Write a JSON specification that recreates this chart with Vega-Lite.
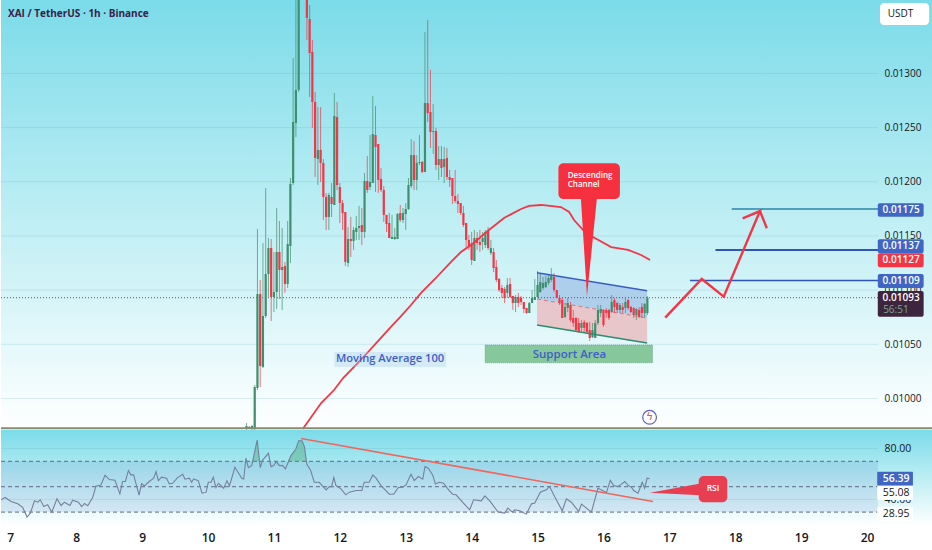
{"$schema":"https://vega.github.io/schema/vega-lite/v6.json","padding":0,"background":"white","spacing":0,"config":{"view":{"stroke":null},"concat":{"spacing":0},"text":{"font":"Open Sans"}},
"datasets":{
"days":[{"h":0},{"h":24},{"h":48},{"h":72},{"h":96},{"h":120},{"h":144},{"h":168},{"h":192},{"h":216},{"h":240},{"h":264},{"h":288},{"h":312}],
"candles":[
{"h":86,"p":0.009773,"p2":0.009709,"o":0.009727,"c":0.009746},
{"h":87,"p":0.009746,"p2":0.009718,"o":0.009737,"c":0.009727},
{"h":88,"p":0.009755,"p2":0.009709,"o":0.009727,"c":0.009746},
{"h":89,"p":0.010125,"p2":0.009691,"o":0.009718,"c":0.010106},
{"h":90,"p":0.011564,"p2":0.010078,"o":0.010097,"c":0.010964},
{"h":91,"p":0.011094,"p2":0.010106,"o":0.010964,"c":0.010300},
{"h":92,"p":0.011435,"p2":0.010282,"o":0.010291,"c":0.010761},
{"h":93,"p":0.011943,"p2":0.010743,"o":0.010761,"c":0.011149},
{"h":94,"p":0.011481,"p2":0.010937,"o":0.011149,"c":0.011389},
{"h":95,"p":0.011472,"p2":0.010715,"o":0.011389,"c":0.010937},
{"h":96,"p":0.011352,"p2":0.010798,"o":0.010937,"c":0.010983},
{"h":97,"p":0.011758,"p2":0.010826,"o":0.010983,"c":0.011352},
{"h":98,"p":0.011638,"p2":0.010918,"o":0.011352,"c":0.011186},
{"h":99,"p":0.011574,"p2":0.010817,"o":0.011186,"c":0.011214},
{"h":100,"p":0.011260,"p2":0.010974,"o":0.011223,"c":0.011057},
{"h":101,"p":0.011638,"p2":0.011020,"o":0.011057,"c":0.011426},
{"h":102,"p":0.012035,"p2":0.011250,"o":0.011407,"c":0.011980},
{"h":103,"p":0.013143,"p2":0.011970,"o":0.011989,"c":0.012552},
{"h":104,"p":0.013770,"p2":0.012413,"o":0.012543,"c":0.012847},
{"h":105,"p":0.013862,"p2":0.012829,"o":0.012847,"c":0.013862},
{"h":106,"p":0.014140,"p2":0.013862,"o":0.013881,"c":0.014093},
{"h":107,"p":0.014140,"p2":0.013789,"o":0.014093,"c":0.013862},
{"h":108,"p":0.013862,"p2":0.013309,"o":0.013789,"c":0.013512},
{"h":109,"p":0.013632,"p2":0.012783,"o":0.013503,"c":0.013189},
{"h":110,"p":0.013309,"p2":0.012497,"o":0.013198,"c":0.012737},
{"h":111,"p":0.012829,"p2":0.012044,"o":0.012737,"c":0.012220},
{"h":112,"p":0.012690,"p2":0.011970,"o":0.012210,"c":0.012294},
{"h":113,"p":0.012690,"p2":0.011998,"o":0.012294,"c":0.012174},
{"h":114,"p":0.012210,"p2":0.011647,"o":0.012174,"c":0.011860},
{"h":115,"p":0.011897,"p2":0.011555,"o":0.011860,"c":0.011675},
{"h":116,"p":0.011897,"p2":0.011555,"o":0.011675,"c":0.011878},
{"h":117,"p":0.011989,"p2":0.011675,"o":0.011860,"c":0.011795},
{"h":118,"p":0.012820,"p2":0.011786,"o":0.011786,"c":0.012607},
{"h":119,"p":0.012737,"p2":0.011924,"o":0.012598,"c":0.011970},
{"h":120,"p":0.011989,"p2":0.011620,"o":0.011952,"c":0.011804},
{"h":121,"p":0.011832,"p2":0.011555,"o":0.011804,"c":0.011712},
{"h":122,"p":0.011721,"p2":0.011223,"o":0.011721,"c":0.011260},
{"h":123,"p":0.011583,"p2":0.011214,"o":0.011250,"c":0.011472},
{"h":124,"p":0.011675,"p2":0.011306,"o":0.011472,"c":0.011454},
{"h":125,"p":0.011583,"p2":0.011371,"o":0.011454,"c":0.011555},
{"h":126,"p":0.011684,"p2":0.011463,"o":0.011537,"c":0.011574},
{"h":127,"p":0.011777,"p2":0.011463,"o":0.011574,"c":0.011592},
{"h":128,"p":0.011758,"p2":0.011417,"o":0.011601,"c":0.011537},
{"h":129,"p":0.012081,"p2":0.011481,"o":0.011537,"c":0.012007},
{"h":130,"p":0.012238,"p2":0.011897,"o":0.012007,"c":0.011924},
{"h":131,"p":0.012432,"p2":0.011924,"o":0.011952,"c":0.011998},
{"h":132,"p":0.012792,"p2":0.011989,"o":0.011989,"c":0.012441},
{"h":133,"p":0.012700,"p2":0.011906,"o":0.012432,"c":0.012321},
{"h":134,"p":0.012349,"p2":0.011897,"o":0.012349,"c":0.012017},
{"h":135,"p":0.012127,"p2":0.011906,"o":0.012026,"c":0.011924},
{"h":136,"p":0.011961,"p2":0.011629,"o":0.011924,"c":0.011694},
{"h":137,"p":0.011694,"p2":0.011537,"o":0.011694,"c":0.011610},
{"h":138,"p":0.011712,"p2":0.011481,"o":0.011620,"c":0.011481},
{"h":139,"p":0.011694,"p2":0.011472,"o":0.011472,"c":0.011490},
{"h":140,"p":0.011574,"p2":0.011463,"o":0.011472,"c":0.011490},
{"h":141,"p":0.011712,"p2":0.011472,"o":0.011472,"c":0.011703},
{"h":142,"p":0.011786,"p2":0.011629,"o":0.011712,"c":0.011647},
{"h":143,"p":0.011758,"p2":0.011620,"o":0.011647,"c":0.011712},
{"h":144,"p":0.011804,"p2":0.011555,"o":0.011703,"c":0.011749},
{"h":145,"p":0.012035,"p2":0.011740,"o":0.011749,"c":0.011970},
{"h":146,"p":0.012395,"p2":0.011943,"o":0.011961,"c":0.012247},
{"h":147,"p":0.012377,"p2":0.011924,"o":0.012247,"c":0.012017},
{"h":148,"p":0.012247,"p2":0.011924,"o":0.012017,"c":0.012174},
{"h":149,"p":0.012432,"p2":0.012155,"o":0.012174,"c":0.012183},
{"h":150,"p":0.012192,"p2":0.012081,"o":0.012183,"c":0.012090},
{"h":151,"p":0.013383,"p2":0.012090,"o":0.012090,"c":0.012727},
{"h":152,"p":0.013493,"p2":0.012552,"o":0.012727,"c":0.012635},
{"h":153,"p":0.013032,"p2":0.012312,"o":0.012644,"c":0.012460},
{"h":154,"p":0.012718,"p2":0.012257,"o":0.012460,"c":0.012469},
{"h":155,"p":0.012497,"p2":0.012109,"o":0.012469,"c":0.012155},
{"h":156,"p":0.012330,"p2":0.012017,"o":0.012155,"c":0.012210},
{"h":157,"p":0.012330,"p2":0.012044,"o":0.012210,"c":0.012127},
{"h":158,"p":0.012321,"p2":0.011989,"o":0.012137,"c":0.012210},
{"h":159,"p":0.012312,"p2":0.012017,"o":0.012220,"c":0.012044},
{"h":160,"p":0.012109,"p2":0.011952,"o":0.012044,"c":0.012017},
{"h":161,"p":0.012035,"p2":0.011795,"o":0.012035,"c":0.011869},
{"h":162,"p":0.012109,"p2":0.011804,"o":0.011869,"c":0.011823},
{"h":163,"p":0.011887,"p2":0.011712,"o":0.011823,"c":0.011795},
{"h":164,"p":0.011804,"p2":0.011694,"o":0.011804,"c":0.011712},
{"h":165,"p":0.011777,"p2":0.011583,"o":0.011712,"c":0.011601},
{"h":166,"p":0.011620,"p2":0.011389,"o":0.011620,"c":0.011463},
{"h":167,"p":0.011509,"p2":0.011371,"o":0.011463,"c":0.011398},
{"h":168,"p":0.011537,"p2":0.011232,"o":0.011435,"c":0.011278},
{"h":169,"p":0.011555,"p2":0.011269,"o":0.011269,"c":0.011481},
{"h":170,"p":0.011537,"p2":0.011371,"o":0.011481,"c":0.011435},
{"h":171,"p":0.011555,"p2":0.011352,"o":0.011444,"c":0.011417},
{"h":172,"p":0.011537,"p2":0.011371,"o":0.011444,"c":0.011481},
{"h":173,"p":0.011555,"p2":0.011389,"o":0.011417,"c":0.011537},
{"h":174,"p":0.011583,"p2":0.011371,"o":0.011555,"c":0.011389},
{"h":175,"p":0.011463,"p2":0.011324,"o":0.011343,"c":0.011389},
{"h":176,"p":0.011389,"p2":0.011167,"o":0.011352,"c":0.011204},
{"h":177,"p":0.011278,"p2":0.011075,"o":0.011214,"c":0.011094},
{"h":178,"p":0.011112,"p2":0.010983,"o":0.011103,"c":0.011001},
{"h":179,"p":0.011048,"p2":0.010928,"o":0.011020,"c":0.010974},
{"h":180,"p":0.011029,"p2":0.010881,"o":0.011011,"c":0.010928},
{"h":181,"p":0.011112,"p2":0.010928,"o":0.010974,"c":0.011048},
{"h":182,"p":0.011112,"p2":0.010928,"o":0.011057,"c":0.010937},
{"h":183,"p":0.010946,"p2":0.010817,"o":0.010946,"c":0.010881},
{"h":184,"p":0.010955,"p2":0.010798,"o":0.010881,"c":0.010937},
{"h":185,"p":0.010974,"p2":0.010844,"o":0.010937,"c":0.010881},
{"h":186,"p":0.010946,"p2":0.010863,"o":0.010928,"c":0.010891},
{"h":187,"p":0.010891,"p2":0.010789,"o":0.010891,"c":0.010826},
{"h":188,"p":0.010835,"p2":0.010780,"o":0.010835,"c":0.010789},
{"h":189,"p":0.010891,"p2":0.010789,"o":0.010789,"c":0.010881},
{"h":190,"p":0.011001,"p2":0.010881,"o":0.010881,"c":0.010928},
{"h":191,"p":0.011103,"p2":0.010909,"o":0.010909,"c":0.010937},
{"h":192,"p":0.011177,"p2":0.010928,"o":0.010937,"c":0.011048},
{"h":193,"p":0.011158,"p2":0.010974,"o":0.010983,"c":0.011075},
{"h":194,"p":0.011121,"p2":0.011001,"o":0.011020,"c":0.011066},
{"h":195,"p":0.011131,"p2":0.011020,"o":0.011029,"c":0.011075},
{"h":196,"p":0.011140,"p2":0.011048,"o":0.011066,"c":0.011112},
{"h":197,"p":0.011204,"p2":0.011075,"o":0.011094,"c":0.011131},
{"h":198,"p":0.011158,"p2":0.010983,"o":0.011121,"c":0.011001},
{"h":199,"p":0.011001,"p2":0.010928,"o":0.011001,"c":0.010928},
{"h":200,"p":0.010955,"p2":0.010863,"o":0.010928,"c":0.010881},
{"h":201,"p":0.010928,"p2":0.010743,"o":0.010909,"c":0.010743},
{"h":202,"p":0.010881,"p2":0.010743,"o":0.010752,"c":0.010844},
{"h":203,"p":0.010928,"p2":0.010798,"o":0.010835,"c":0.010881},
{"h":204,"p":0.010891,"p2":0.010706,"o":0.010863,"c":0.010724},
{"h":205,"p":0.010817,"p2":0.010660,"o":0.010743,"c":0.010697},
{"h":206,"p":0.010752,"p2":0.010614,"o":0.010743,"c":0.010632},
{"h":207,"p":0.010743,"p2":0.010604,"o":0.010697,"c":0.010614},
{"h":208,"p":0.010724,"p2":0.010614,"o":0.010651,"c":0.010697},
{"h":209,"p":0.010724,"p2":0.010614,"o":0.010706,"c":0.010651},
{"h":210,"p":0.010706,"p2":0.010595,"o":0.010697,"c":0.010614},
{"h":211,"p":0.010706,"p2":0.010531,"o":0.010632,"c":0.010558},
{"h":212,"p":0.010697,"p2":0.010558,"o":0.010567,"c":0.010632},
{"h":213,"p":0.010724,"p2":0.010558,"o":0.010558,"c":0.010697},
{"h":214,"p":0.010863,"p2":0.010678,"o":0.010697,"c":0.010817},
{"h":215,"p":0.010863,"p2":0.010752,"o":0.010789,"c":0.010826},
{"h":216,"p":0.010826,"p2":0.010660,"o":0.010817,"c":0.010678},
{"h":217,"p":0.010835,"p2":0.010743,"o":0.010817,"c":0.010789},
{"h":218,"p":0.010826,"p2":0.010724,"o":0.010817,"c":0.010743},
{"h":219,"p":0.010955,"p2":0.010789,"o":0.010798,"c":0.010891},
{"h":220,"p":0.010928,"p2":0.010789,"o":0.010909,"c":0.010844},
{"h":221,"p":0.010891,"p2":0.010789,"o":0.010881,"c":0.010817},
{"h":222,"p":0.010881,"p2":0.010789,"o":0.010817,"c":0.010863},
{"h":223,"p":0.010881,"p2":0.010789,"o":0.010844,"c":0.010817},
{"h":224,"p":0.010928,"p2":0.010789,"o":0.010835,"c":0.010891},
{"h":225,"p":0.010918,"p2":0.010817,"o":0.010909,"c":0.010835},
{"h":226,"p":0.010854,"p2":0.010789,"o":0.010844,"c":0.010798},
{"h":227,"p":0.010844,"p2":0.010743,"o":0.010835,"c":0.010771},
{"h":228,"p":0.010835,"p2":0.010724,"o":0.010771,"c":0.010826},
{"h":229,"p":0.010844,"p2":0.010743,"o":0.010817,"c":0.010752},
{"h":230,"p":0.010881,"p2":0.010743,"o":0.010844,"c":0.010789},
{"h":231,"p":0.010881,"p2":0.010743,"o":0.010789,"c":0.010872},
{"h":232,"p":0.010946,"p2":0.010771,"o":0.010789,"c":0.010928}],
"ma":[{"h":106.5,"p":0.009718},{"h":113.2,"p":0.009958},{"h":117.9,"p":0.010078},{"h":121.2,"p":0.010189},{"h":126.6,"p":0.010328},{"h":130.3,"p":0.010429},{"h":134.3,"p":0.01054},{"h":138.6,"p":0.01066},{"h":142.3,"p":0.010761},{"h":145.9,"p":0.010863},{"h":149.6,"p":0.010974},{"h":155,"p":0.011112},{"h":160.5,"p":0.01126},{"h":164.1,"p":0.011352},{"h":167.8,"p":0.011417},{"h":174.3,"p":0.011555},{"h":179.8,"p":0.011666},{"h":186,"p":0.011749},{"h":188.9,"p":0.011777},{"h":193.3,"p":0.011786},{"h":200.5,"p":0.011767},{"h":203.5,"p":0.011721},{"h":205.3,"p":0.011647},{"h":208.6,"p":0.011555},{"h":212.2,"p":0.01149},{"h":218.8,"p":0.011398},{"h":225,"p":0.011371},{"h":229.7,"p":0.011324},{"h":233,"p":0.011278}],
"rsi":[{"h":-3.4,"v":39.7},{"h":-1.9,"v":41.5},{"h":0.3,"v":38.4},{"h":2.7,"v":36.5},{"h":4.5,"v":33.7},{"h":6.1,"v":26.1},{"h":7.3,"v":29.2},{"h":8.8,"v":38.9},{"h":10,"v":37.8},{"h":10.9,"v":39.7},{"h":12.2,"v":34.4},{"h":13.6,"v":35.8},{"h":15.1,"v":30},{"h":17,"v":40.5},{"h":18.5,"v":35.2},{"h":19.7,"v":37.8},{"h":21.7,"v":35.2},{"h":22.7,"v":39.4},{"h":24.8,"v":37.8},{"h":26,"v":34.4},{"h":27,"v":36.8},{"h":28.2,"v":35},{"h":30,"v":41.5},{"h":31.2,"v":50.4},{"h":33,"v":51.4},{"h":34.5,"v":59},{"h":36.1,"v":55.6},{"h":38.1,"v":55.1},{"h":39.9,"v":44.4},{"h":40.9,"v":54.1},{"h":41.9,"v":54.1},{"h":43,"v":62.7},{"h":43.9,"v":59.3},{"h":44.9,"v":59.3},{"h":46.9,"v":43.3},{"h":47.8,"v":52.5},{"h":48.8,"v":50.6},{"h":50.6,"v":54.1},{"h":52.2,"v":56.7},{"h":53.1,"v":61.9},{"h":53.9,"v":54.8},{"h":55.1,"v":57.5},{"h":56.9,"v":56.7},{"h":57.9,"v":52.2},{"h":59.1,"v":52.7},{"h":60.9,"v":57.2},{"h":62.8,"v":59.8},{"h":63.6,"v":55.9},{"h":65.2,"v":56.7},{"h":66,"v":53.5},{"h":66.8,"v":56.1},{"h":68.5,"v":54.6},{"h":69.8,"v":44.9},{"h":71.3,"v":45.7},{"h":72.1,"v":53.5},{"h":73.1,"v":53.5},{"h":73.9,"v":57.5},{"h":74.9,"v":49.4},{"h":75.8,"v":52.7},{"h":77.7,"v":48.8},{"h":78.9,"v":54.6},{"h":79.8,"v":50.6},{"h":81.8,"v":65.3},{"h":84.3,"v":56.7},{"h":85,"v":56.1},{"h":85.8,"v":72.4},{"h":86.7,"v":65},{"h":87.9,"v":66.6},{"h":89.9,"v":86.7},{"h":91,"v":65},{"h":91.9,"v":71},{"h":94,"v":76.3},{"h":94.9,"v":65.8},{"h":95.9,"v":66.6},{"h":96.9,"v":69.7},{"h":98,"v":66.6},{"h":99.2,"v":66.6},{"h":100.2,"v":64},{"h":102.2,"v":74.5},{"h":104,"v":79.7},{"h":105,"v":86.2},{"h":106.2,"v":86.2},{"h":107.1,"v":81.5},{"h":108,"v":67.6},{"h":109.3,"v":63.2},{"h":110.7,"v":53.5},{"h":112.5,"v":53.5},{"h":115,"v":47.5},{"h":116.2,"v":50.1},{"h":117,"v":50.1},{"h":117.8,"v":57.2},{"h":118.6,"v":50.9},{"h":120.4,"v":48.3},{"h":122.2,"v":43.6},{"h":123.5,"v":45.7},{"h":125.9,"v":47},{"h":128,"v":47},{"h":128.9,"v":53.5},{"h":130.7,"v":53.5},{"h":132,"v":59.3},{"h":133.2,"v":56.7},{"h":135,"v":50.9},{"h":138,"v":44.1},{"h":139.6,"v":44.1},{"h":141.3,"v":49.4},{"h":142.9,"v":49.6},{"h":144.1,"v":51.4},{"h":145.9,"v":59.8},{"h":147.1,"v":54.8},{"h":148.6,"v":58},{"h":150.2,"v":55.9},{"h":151,"v":65.8},{"h":152.2,"v":64.5},{"h":153.8,"v":59.3},{"h":154.8,"v":52.2},{"h":156.2,"v":53.5},{"h":157.8,"v":52.7},{"h":159.9,"v":46.7},{"h":161.1,"v":44.1},{"h":162.3,"v":43.6},{"h":164.7,"v":37.8},{"h":167.3,"v":31.8},{"h":168.7,"v":39.7},{"h":171.5,"v":38.9},{"h":172.8,"v":42.8},{"h":174.6,"v":38.9},{"h":177.6,"v":30},{"h":180,"v":29.2},{"h":181.2,"v":33.1},{"h":182.8,"v":30},{"h":183.7,"v":31.8},{"h":185.5,"v":31},{"h":187.9,"v":28.4},{"h":189.8,"v":36.5},{"h":191,"v":37.1},{"h":193,"v":45.7},{"h":195.2,"v":47.5},{"h":196.4,"v":50.1},{"h":198.2,"v":42.3},{"h":201,"v":31},{"h":202.5,"v":40.5},{"h":204.3,"v":37.8},{"h":207,"v":30.5},{"h":208,"v":36.3},{"h":211.6,"v":30},{"h":214,"v":48.8},{"h":217.1,"v":45.4},{"h":218.5,"v":55.1},{"h":219.7,"v":50.9},{"h":221.3,"v":50.1},{"h":222.2,"v":51.4},{"h":223.8,"v":54.1},{"h":225,"v":50.9},{"h":226.2,"v":49.6},{"h":227,"v":47},{"h":228.6,"v":44.9},{"h":230.1,"v":53.5},{"h":231,"v":48.8},{"h":231.9,"v":56.7},{"h":232.8,"v":56.39}]
},
"vconcat":[
{"width":932,"height":430,
"view":{"stroke":null,"fill":{"gradient":"linear","x1":0,"y1":0,"x2":0,"y2":1,"stops":[{"offset":0,"color":"#7bdbe9"},{"offset":0.5,"color":"#bdeef4"},{"offset":1,"color":"#ffffff"}]}},
"encoding":{"x":{"field":"h","type":"quantitative","scale":{"domain":[-3.39,336.01],"nice":false,"zero":false},"axis":null},
"y":{"field":"p","type":"quantitative","scale":{"domain":[0.009709,0.013678],"nice":false,"zero":false},"axis":{"orient":"right","offset":-49,"values":[0.0100,0.0105,0.0110,0.0115,0.0120,0.0125,0.0130],"format":".5f","title":null,"grid":false,"ticks":false,"domain":false,"labelPadding":0,"labelAlign":"left","labelFont":"Open Sans","labelFontSize":10,"labelColor":"#131722"}}},
"layer":[
{"data":{"name":"days"},"mark":{"type":"rule","stroke":"#5aa7b8","opacity":0.2,"strokeWidth":1},"encoding":{"y":{"datum":0.013678},"y2":{"datum":0.009709}}},
{"data":{"values":[{"h":-3.39,"h2":316,"p":0.0100},{"h":-3.39,"h2":316,"p":0.0105},{"h":-3.39,"h2":316,"p":0.0110},{"h":-3.39,"h2":316,"p":0.0115},{"h":-3.39,"h2":316,"p":0.0120},{"h":-3.39,"h2":316,"p":0.0125},{"h":-3.39,"h2":316,"p":0.0130}]},"mark":{"type":"rule","stroke":"#5aa7b8","opacity":0.2,"strokeWidth":1},"encoding":{"x2":{"field":"h2"}}},
{"data":{"values":[{"h":316}]},"mark":{"type":"rule","stroke":"#ffffff","opacity":0.5,"strokeWidth":2},"encoding":{"y":{"datum":0.013678},"y2":{"datum":0.009709}}},
{"data":{"values":[{"h":191.8,"top":0.011161,"bot":0.010918},{"h":231.9,"top":0.010995,"bot":0.010743}]},"mark":{"type":"area","color":"#a9cbe9","opacity":0.9},"encoding":{"y":{"field":"top","type":"quantitative"},"y2":{"field":"bot"}}},
{"data":{"values":[{"h":191.8,"top":0.010918,"bot":0.010678},{"h":231.9,"top":0.010743,"bot":0.010512}]},"mark":{"type":"area","color":"#e8c4c8","opacity":0.95},"encoding":{"y":{"field":"top","type":"quantitative"},"y2":{"field":"bot"}}},
{"data":{"values":[{"h":191.8,"p":0.010918},{"h":231.9,"p":0.010743}]},"mark":{"type":"line","color":"#e57373","strokeWidth":1,"strokeDash":[4,3]}},
{"data":{"values":[{"h":-3.39,"h2":316,"p":0.01093}]},"mark":{"type":"rule","stroke":"#3f3f55","strokeWidth":1,"strokeDash":[1,2],"opacity":0.85},"encoding":{"x2":{"field":"h2"}}},
{"data":{"name":"candles"},"mark":{"type":"rule","strokeWidth":1,"opacity":0.7,"clip":true},"encoding":{"y2":{"field":"p2"},"color":{"condition":{"test":"datum.c>=datum.o","value":"#3f8f6e"},"value":"#f23645"}}},
{"data":{"name":"candles"},"mark":{"type":"rule","strokeWidth":2.2,"clip":true},"encoding":{"y":{"field":"o","type":"quantitative"},"y2":{"field":"c"},"color":{"condition":{"test":"datum.c>=datum.o","value":"#3f8f6e"},"value":"#f23645"}}},
{"data":{"values":[{"h":191.8,"p":0.011161},{"h":231.9,"p":0.010995}]},"mark":{"type":"line","color":"#3b5fc0","strokeWidth":1.6}},
{"data":{"values":[{"h":191.8,"p":0.010678},{"h":231.9,"p":0.010512}]},"mark":{"type":"line","color":"#2e8b6f","strokeWidth":1.6}},
{"data":{"name":"ma"},"mark":{"type":"line","color":"#f23645","strokeWidth":1.8,"clip":true}},
{"data":{"values":[{"h":172.9,"h2":233.9,"p":0.010494,"p2":0.01033}]},"mark":{"type":"rect","fill":"#86c79c","stroke":"#5f9f80","strokeWidth":0.7,"strokeDash":[1,1]},"encoding":{"x2":{"field":"h2"},"y2":{"field":"p2"}}},
{"data":{"values":[{"h":203.6,"p":0.010405,"t":"Support Area"}]},"mark":{"type":"text","color":"#3f5fc4","fontSize":11.5,"fontWeight":600,"align":"center","baseline":"middle"},"encoding":{"text":{"field":"t"}}},
{"data":{"values":[{"h":118,"h2":158.7,"p":0.010429,"p2":0.010291}]},"mark":{"type":"rect","fill":"#a9cbe9","opacity":0.35},"encoding":{"x2":{"field":"h2"},"y2":{"field":"p2"}}},
{"data":{"values":[{"h":138.3,"p":0.01036,"t":"Moving Average 100"}]},"mark":{"type":"text","color":"#3f5fc4","fontSize":11.2,"fontWeight":600,"align":"center","baseline":"middle"},"encoding":{"text":{"field":"t"}}},
{"data":{"values":[{"h":207.8,"top":0.011841,"bot":0.011841},{"h":210,"top":0.011841,"bot":0.010946},{"h":213.6,"top":0.011841,"bot":0.011841}]},"mark":{"type":"area","color":"#f7303f"},"encoding":{"y":{"field":"top","type":"quantitative"},"y2":{"field":"bot"}}},
{"data":{"values":[{"h":199.6,"h2":222,"p":0.012171,"p2":0.011841}]},"mark":{"type":"rect","fill":"#f7303f","cornerRadius":5},"encoding":{"x2":{"field":"h2"},"y2":{"field":"p2"}}},
{"data":{"values":[{"h":203,"p":0.012058,"t":"Descending"},{"h":203,"p":0.01197,"t":"Channel"}]},"mark":{"type":"text","color":"#ffffff","fontSize":8,"fontWeight":600,"align":"left","baseline":"middle"},"encoding":{"text":{"field":"t"}}},
{"data":{"values":[{"h":262.7,"h2":316,"p":0.01175}]},"mark":{"type":"rule","stroke":"#2c84a8","strokeWidth":1.5},"encoding":{"x2":{"field":"h2"}}},
{"data":{"values":[{"h":256.8,"h2":316,"p":0.01137}]},"mark":{"type":"rule","stroke":"#2f55b8","strokeWidth":2},"encoding":{"x2":{"field":"h2"}}},
{"data":{"values":[{"h":247.5,"h2":316,"p":0.01109}]},"mark":{"type":"rule","stroke":"#2f55b8","strokeWidth":1.5},"encoding":{"x2":{"field":"h2"}}},
{"data":{"values":[{"n":1,"h":238.5,"p":0.010746},{"n":2,"h":251.8,"p":0.011103},{"n":3,"h":259.8,"p":0.01094},{"n":4,"h":273,"p":0.01173},{"n":5,"h":266.7,"p":0.011663},{"n":6,"h":273,"p":0.01173},{"n":7,"h":275.5,"p":0.011571}]},"mark":{"type":"line","color":"#f23645","strokeWidth":2.4},"encoding":{"order":{"field":"n"}}},
{"data":{"values":[{"h":-3.39,"p":0.009725}]},"mark":{"type":"rule","stroke":"#8a8a70","strokeWidth":2},"encoding":{"x2":{"datum":336.01}}},
{"data":{"values":[{"h":232.8,"p":0.009826}]},"mark":{"type":"point","shape":"circle","size":190,"stroke":"#5a62c4","strokeWidth":1.2,"fill":"#ffffff","opacity":1}},
{"data":{"values":[{"h":232.8,"p":0.009826,"t":"ϟ"}]},"mark":{"type":"text","font":"DejaVu Sans","color":"#d0556a","fontSize":11,"align":"center","baseline":"middle"},"encoding":{"text":{"field":"t"}}},
{"data":{"values":[{"h":-0.84,"p":0.013549,"t":"XAI / TetherUS · 1h · Binance"}]},"mark":{"type":"text","color":"#3a2148","fontSize":10,"fontWeight":700,"align":"left","baseline":"middle"},"encoding":{"text":{"field":"t"}}},
{"data":{"values":[{"h":316.7,"h2":334.6,"p":0.01365,"p2":0.013447}]},"mark":{"type":"rect","fill":"#ffffff","cornerRadius":4},"encoding":{"x2":{"field":"h2"},"y2":{"field":"p2"}}},
{"data":{"values":[{"h":319.5,"p":0.013549,"t":"USDT"}]},"mark":{"type":"text","color":"#131722","fontSize":10,"align":"left","baseline":"middle"},"encoding":{"text":{"field":"t"}}},
{"data":{"values":[{"h":315.9,"h2":332.6,"p":0.011802,"p2":0.011678,"k":"target"},{"h":315.9,"h2":332.6,"p":0.011469,"p2":0.01134,"k":"target"},{"h":315.9,"h2":332.6,"p":0.01134,"p2":0.011211,"k":"ma"},{"h":315.9,"h2":332.6,"p":0.011149,"p2":0.01102,"k":"target"},{"h":315.9,"h2":332.6,"p":0.010992,"p2":0.010755,"k":"last"}]},"mark":{"type":"rect","cornerRadius":2},"encoding":{"x2":{"field":"h2"},"y2":{"field":"p2"},"color":{"field":"k","type":"nominal","legend":null,"scale":{"domain":["target","ma","last"],"range":["#3f66c4","#f23645","#3f2440"]}}}},
{"data":{"values":[{"h":324.4,"p":0.01174,"t":"0.01175"},{"h":324.4,"p":0.011405,"t":"0.01137"},{"h":324.4,"p":0.011275,"t":"0.01127"},{"h":324.4,"p":0.011084,"t":"0.01109"},{"h":324.4,"p":0.01093,"t":"0.01093"}]},"mark":{"type":"text","color":"#ffffff","fontSize":10,"fontWeight":600,"align":"center","baseline":"middle"},"encoding":{"text":{"field":"t"}}},
{"data":{"values":[{"h":322.5,"p":0.010817,"t":"56:51"}]},"mark":{"type":"text","color":"#7ba98e","fontSize":10,"align":"center","baseline":"middle"},"encoding":{"text":{"field":"t"}}}
]},
{"width":932,"height":96,
"view":{"stroke":null,"fill":{"gradient":"linear","x1":0,"y1":0,"x2":0,"y2":1,"stops":[{"offset":0,"color":"#7bdbe9"},{"offset":0.5,"color":"#bdeef4"},{"offset":1,"color":"#ffffff"}]}},
"encoding":{"x":{"field":"h","type":"quantitative","scale":{"domain":[-3.39,336.01],"nice":false,"zero":false},"axis":{"orient":"bottom","values":[0,24,48,72,96,120,144,168,192,216,240,264,288,312],"labelExpr":"datum.value/24+7","title":null,"grid":false,"ticks":false,"domain":false,"labelPadding":6,"labelFont":"Open Sans","labelFontSize":12,"labelFontWeight":600,"labelColor":"#131722"}},
"y":{"field":"v","type":"quantitative","scale":{"domain":[19.06,94.65],"nice":false,"zero":false},"axis":{"orient":"right","offset":-49,"values":[80,40],"format":".2f","title":null,"grid":false,"ticks":false,"domain":false,"labelPadding":0,"labelAlign":"left","labelFont":"Open Sans","labelFontSize":10.5,"labelColor":"#131722"}}},
"layer":[
{"data":{"values":[{"h":-3.39,"h2":316,"v":70,"v2":30}]},"mark":{"type":"rect","fill":"#4a6fc0","opacity":0.14},"encoding":{"x2":{"field":"h2"},"y2":{"field":"v2"}}},
{"data":{"name":"days"},"mark":{"type":"rule","stroke":"#5aa7b8","opacity":0.2,"strokeWidth":1},"encoding":{"y":{"datum":94.65},"y2":{"datum":19.06}}},
{"data":{"values":[{"h":-3.39,"h2":316,"v":80},{"h":-3.39,"h2":316,"v":40}]},"mark":{"type":"rule","stroke":"#5aa7b8","opacity":0.2,"strokeWidth":1},"encoding":{"x2":{"field":"h2"}}},
{"data":{"values":[{"h":-3.39,"h2":316,"v":70},{"h":-3.39,"h2":316,"v":50},{"h":-3.39,"h2":316,"v":30}]},"mark":{"type":"rule","stroke":"#5f6b80","strokeWidth":1,"strokeDash":[4,3]},"encoding":{"x2":{"field":"h2"}}},
{"data":{"values":[{"h":85.4,"top":70,"bot":70},{"h":85.8,"top":72.4,"bot":70},{"h":86.4,"top":70,"bot":70},{"h":88.2,"top":70,"bot":70},{"h":89.9,"top":86.7,"bot":70},{"h":90.7,"top":70,"bot":70},{"h":101,"top":70,"bot":70},{"h":102.2,"top":74.5,"bot":70},{"h":104,"top":79.7,"bot":70},{"h":105,"top":86.2,"bot":70},{"h":106.2,"top":86.2,"bot":70},{"h":107.1,"top":81.5,"bot":70},{"h":107.8,"top":70,"bot":70}]},"mark":{"type":"area","color":"#4fa97a","opacity":0.45},"encoding":{"y":{"field":"top","type":"quantitative"},"y2":{"field":"bot"}}},
{"data":{"name":"rsi"},"mark":{"type":"line","color":"#76809c","strokeWidth":1.1,"clip":true}},
{"data":{"values":[{"h":105.9,"v":88},{"h":234,"v":38.4}]},"mark":{"type":"line","color":"#f0655c","strokeWidth":1.6}},
{"data":{"values":[{"h":232.9,"top":45.2,"bot":45.2},{"h":253.3,"top":53.3,"bot":43.1}]},"mark":{"type":"area","color":"#e83e52"},"encoding":{"y":{"field":"top","type":"quantitative"},"y2":{"field":"bot"}}},
{"data":{"values":[{"h":250.7,"h2":261.1,"v":58.5,"v2":37.8}]},"mark":{"type":"rect","fill":"#e83e52","cornerRadius":5},"encoding":{"x2":{"field":"h2"},"y2":{"field":"v2"}}},
{"data":{"values":[{"h":255.9,"v":48.6,"t":"RSI"}]},"mark":{"type":"text","color":"#ffffff","fontSize":8.5,"fontWeight":600,"align":"center","baseline":"middle"},"encoding":{"text":{"field":"t"}}},
{"data":{"values":[{"h":315.7,"h2":328.7,"v":61.8,"v2":50.8}]},"mark":{"type":"rect","fill":"#3f66c4","cornerRadius":1},"encoding":{"x2":{"field":"h2"},"y2":{"field":"v2"}}},
{"data":{"values":[{"h":315.7,"h2":328.7,"v":50.8,"v2":39.5},{"h":315.7,"h2":328.7,"v":34.3,"v2":23}]},"mark":{"type":"rect","fill":"#ffffff","cornerRadius":1},"encoding":{"x2":{"field":"h2"},"y2":{"field":"v2"}}},
{"data":{"values":[{"h":322.6,"v":56.3,"t":"56.39"}]},"mark":{"type":"text","color":"#ffffff","fontSize":10.5,"fontWeight":600,"align":"center","baseline":"middle"},"encoding":{"text":{"field":"t"}}},
{"data":{"values":[{"h":322.6,"v":45.2,"t":"55.08"},{"h":322.6,"v":28.7,"t":"28.95"}]},"mark":{"type":"text","color":"#131722","fontSize":10.5,"align":"center","baseline":"middle"},"encoding":{"text":{"field":"t"}}}
]}
]}
